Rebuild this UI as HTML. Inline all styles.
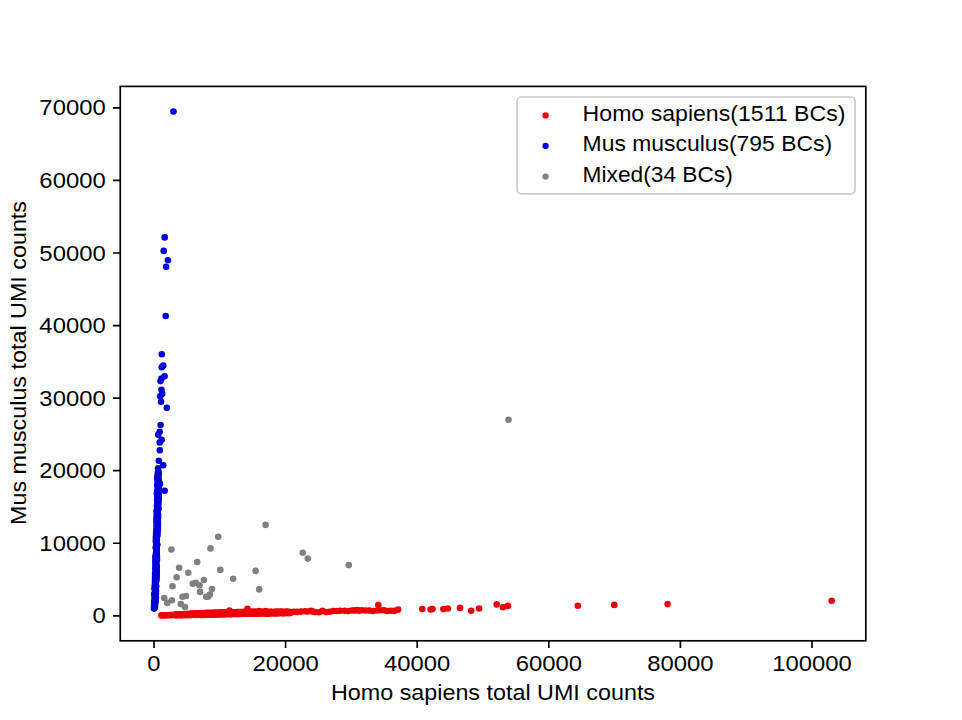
<!DOCTYPE html>
<html><head><meta charset="utf-8"><title>scatter</title>
<style>html,body{margin:0;padding:0;background:#fff;width:962px;height:720px;overflow:hidden}svg{display:block}</style>
</head><body><svg width="962" height="720" viewBox="0 0 962 720"><rect x="0" y="0" width="962" height="720" fill="#fff"/><g fill="#ee0008"><circle cx="161.3" cy="615.4" r="3.3"/><circle cx="162.5" cy="615.4" r="3.3"/><circle cx="164.3" cy="615.3" r="3.3"/><circle cx="165.0" cy="615.3" r="3.3"/><circle cx="166.7" cy="615.2" r="3.3"/><circle cx="167.9" cy="615.2" r="3.3"/><circle cx="168.9" cy="615.1" r="3.3"/><circle cx="170.6" cy="615.1" r="3.3"/><circle cx="171.4" cy="615.0" r="3.3"/><circle cx="173.1" cy="615.0" r="3.3"/><circle cx="174.1" cy="614.9" r="3.3"/><circle cx="176.1" cy="614.6" r="3.3"/><circle cx="175.9" cy="615.1" r="3.3"/><circle cx="175.7" cy="615.2" r="3.3"/><circle cx="177.5" cy="614.6" r="3.3"/><circle cx="176.7" cy="615.1" r="3.3"/><circle cx="176.8" cy="614.7" r="3.3"/><circle cx="178.3" cy="614.5" r="3.3"/><circle cx="178.0" cy="615.1" r="3.3"/><circle cx="178.3" cy="614.6" r="3.3"/><circle cx="179.7" cy="614.4" r="3.3"/><circle cx="179.9" cy="615.2" r="3.3"/><circle cx="179.7" cy="614.6" r="3.3"/><circle cx="180.8" cy="614.3" r="3.3"/><circle cx="180.9" cy="615.0" r="3.3"/><circle cx="181.0" cy="614.9" r="3.3"/><circle cx="182.6" cy="614.2" r="3.3"/><circle cx="182.1" cy="615.1" r="3.3"/><circle cx="182.4" cy="614.8" r="3.3"/><circle cx="184.0" cy="614.1" r="3.3"/><circle cx="183.2" cy="615.1" r="3.3"/><circle cx="184.1" cy="614.8" r="3.3"/><circle cx="184.8" cy="614.2" r="3.3"/><circle cx="184.9" cy="614.9" r="3.3"/><circle cx="184.5" cy="614.4" r="3.3"/><circle cx="185.9" cy="614.2" r="3.3"/><circle cx="185.8" cy="615.1" r="3.3"/><circle cx="186.6" cy="614.5" r="3.3"/><circle cx="187.3" cy="613.9" r="3.3"/><circle cx="187.9" cy="614.9" r="3.3"/><circle cx="187.2" cy="614.9" r="3.3"/><circle cx="188.8" cy="614.0" r="3.3"/><circle cx="188.3" cy="614.9" r="3.3"/><circle cx="188.9" cy="614.4" r="3.3"/><circle cx="190.1" cy="613.8" r="3.3"/><circle cx="189.7" cy="615.0" r="3.3"/><circle cx="190.5" cy="614.9" r="3.3"/><circle cx="191.3" cy="613.9" r="3.3"/><circle cx="191.0" cy="614.9" r="3.3"/><circle cx="191.1" cy="614.0" r="3.3"/><circle cx="192.2" cy="613.9" r="3.3"/><circle cx="192.6" cy="614.8" r="3.3"/><circle cx="192.8" cy="613.7" r="3.3"/><circle cx="193.8" cy="613.8" r="3.3"/><circle cx="194.3" cy="614.8" r="3.3"/><circle cx="194.0" cy="614.8" r="3.3"/><circle cx="195.1" cy="613.8" r="3.3"/><circle cx="195.0" cy="614.9" r="3.3"/><circle cx="195.3" cy="613.5" r="3.3"/><circle cx="196.1" cy="613.6" r="3.3"/><circle cx="197.0" cy="615.0" r="3.3"/><circle cx="196.5" cy="614.4" r="3.3"/><circle cx="197.9" cy="613.4" r="3.3"/><circle cx="197.6" cy="614.7" r="3.3"/><circle cx="198.3" cy="614.7" r="3.3"/><circle cx="199.4" cy="613.3" r="3.3"/><circle cx="199.1" cy="614.8" r="3.3"/><circle cx="199.0" cy="613.6" r="3.3"/><circle cx="201.0" cy="613.3" r="3.3"/><circle cx="201.0" cy="614.9" r="3.3"/><circle cx="200.2" cy="614.7" r="3.3"/><circle cx="201.5" cy="613.4" r="3.3"/><circle cx="202.1" cy="614.9" r="3.3"/><circle cx="202.1" cy="614.0" r="3.3"/><circle cx="203.5" cy="613.2" r="3.3"/><circle cx="203.1" cy="614.8" r="3.3"/><circle cx="202.9" cy="613.4" r="3.3"/><circle cx="204.3" cy="613.0" r="3.3"/><circle cx="204.6" cy="614.9" r="3.3"/><circle cx="204.1" cy="613.5" r="3.3"/><circle cx="205.3" cy="613.0" r="3.3"/><circle cx="205.9" cy="614.8" r="3.3"/><circle cx="205.3" cy="613.7" r="3.3"/><circle cx="207.1" cy="612.9" r="3.3"/><circle cx="206.9" cy="614.8" r="3.3"/><circle cx="206.7" cy="614.5" r="3.3"/><circle cx="208.0" cy="613.1" r="3.3"/><circle cx="208.2" cy="614.5" r="3.3"/><circle cx="208.2" cy="613.1" r="3.3"/><circle cx="210.0" cy="612.9" r="3.3"/><circle cx="209.6" cy="614.8" r="3.3"/><circle cx="209.1" cy="613.8" r="3.3"/><circle cx="210.4" cy="613.0" r="3.3"/><circle cx="210.9" cy="614.4" r="3.3"/><circle cx="210.7" cy="614.1" r="3.3"/><circle cx="212.5" cy="612.8" r="3.3"/><circle cx="211.9" cy="614.6" r="3.3"/><circle cx="212.2" cy="613.3" r="3.3"/><circle cx="213.9" cy="612.7" r="3.3"/><circle cx="213.5" cy="614.6" r="3.3"/><circle cx="213.5" cy="613.7" r="3.3"/><circle cx="215.2" cy="612.8" r="3.3"/><circle cx="215.2" cy="614.6" r="3.3"/><circle cx="215.2" cy="613.2" r="3.3"/><circle cx="215.7" cy="612.9" r="3.3"/><circle cx="215.8" cy="614.3" r="3.3"/><circle cx="216.4" cy="612.8" r="3.3"/><circle cx="217.6" cy="612.9" r="3.3"/><circle cx="217.8" cy="614.3" r="3.3"/><circle cx="217.9" cy="614.3" r="3.3"/><circle cx="219.2" cy="612.7" r="3.3"/><circle cx="218.6" cy="614.2" r="3.3"/><circle cx="218.4" cy="613.6" r="3.3"/><circle cx="219.5" cy="612.6" r="3.3"/><circle cx="219.5" cy="614.3" r="3.3"/><circle cx="220.0" cy="613.2" r="3.3"/><circle cx="221.6" cy="612.4" r="3.3"/><circle cx="221.1" cy="614.2" r="3.3"/><circle cx="221.1" cy="612.6" r="3.3"/><circle cx="223.0" cy="612.6" r="3.3"/><circle cx="222.2" cy="614.2" r="3.3"/><circle cx="222.8" cy="614.2" r="3.3"/><circle cx="224.1" cy="612.8" r="3.3"/><circle cx="224.3" cy="614.1" r="3.3"/><circle cx="223.5" cy="613.7" r="3.3"/><circle cx="225.6" cy="612.7" r="3.3"/><circle cx="225.3" cy="614.2" r="3.3"/><circle cx="224.8" cy="614.0" r="3.3"/><circle cx="226.1" cy="612.6" r="3.3"/><circle cx="226.2" cy="614.0" r="3.3"/><circle cx="226.8" cy="613.1" r="3.3"/><circle cx="227.5" cy="612.5" r="3.3"/><circle cx="227.6" cy="614.0" r="3.3"/><circle cx="227.9" cy="612.4" r="3.3"/><circle cx="229.5" cy="612.4" r="3.3"/><circle cx="229.0" cy="614.3" r="3.3"/><circle cx="229.0" cy="613.3" r="3.3"/><circle cx="230.9" cy="612.3" r="3.3"/><circle cx="230.6" cy="614.3" r="3.3"/><circle cx="230.2" cy="613.5" r="3.3"/><circle cx="231.3" cy="612.5" r="3.3"/><circle cx="231.4" cy="614.0" r="3.3"/><circle cx="232.1" cy="612.4" r="3.3"/><circle cx="232.7" cy="612.4" r="3.3"/><circle cx="232.7" cy="614.0" r="3.3"/><circle cx="233.5" cy="613.1" r="3.3"/><circle cx="234.0" cy="612.3" r="3.3"/><circle cx="234.2" cy="614.0" r="3.3"/><circle cx="234.3" cy="612.4" r="3.3"/><circle cx="235.6" cy="612.4" r="3.3"/><circle cx="235.2" cy="613.9" r="3.3"/><circle cx="235.1" cy="613.0" r="3.3"/><circle cx="237.0" cy="612.4" r="3.3"/><circle cx="237.1" cy="614.1" r="3.3"/><circle cx="236.8" cy="613.6" r="3.3"/><circle cx="237.8" cy="612.0" r="3.3"/><circle cx="237.7" cy="614.0" r="3.3"/><circle cx="238.3" cy="613.8" r="3.3"/><circle cx="239.1" cy="612.0" r="3.3"/><circle cx="239.8" cy="613.9" r="3.3"/><circle cx="239.6" cy="613.7" r="3.3"/><circle cx="241.0" cy="612.1" r="3.3"/><circle cx="240.4" cy="613.7" r="3.3"/><circle cx="241.1" cy="612.8" r="3.3"/><circle cx="242.2" cy="612.1" r="3.3"/><circle cx="241.6" cy="613.9" r="3.3"/><circle cx="242.1" cy="613.6" r="3.3"/><circle cx="243.0" cy="612.0" r="3.3"/><circle cx="243.0" cy="613.7" r="3.3"/><circle cx="243.1" cy="612.5" r="3.3"/><circle cx="244.7" cy="611.8" r="3.3"/><circle cx="244.9" cy="613.8" r="3.3"/><circle cx="244.8" cy="613.4" r="3.3"/><circle cx="245.8" cy="612.2" r="3.3"/><circle cx="246.1" cy="613.7" r="3.3"/><circle cx="245.8" cy="612.2" r="3.3"/><circle cx="247.5" cy="611.9" r="3.3"/><circle cx="247.3" cy="613.7" r="3.3"/><circle cx="247.7" cy="612.8" r="3.3"/><circle cx="249.0" cy="611.7" r="3.3"/><circle cx="248.9" cy="613.7" r="3.3"/><circle cx="248.4" cy="613.6" r="3.3"/><circle cx="249.6" cy="611.7" r="3.3"/><circle cx="249.9" cy="613.5" r="3.3"/><circle cx="250.2" cy="613.5" r="3.3"/><circle cx="251.4" cy="611.7" r="3.3"/><circle cx="251.2" cy="613.8" r="3.3"/><circle cx="251.2" cy="612.2" r="3.3"/><circle cx="252.1" cy="612.0" r="3.3"/><circle cx="252.8" cy="613.6" r="3.3"/><circle cx="252.8" cy="611.8" r="3.3"/><circle cx="254.0" cy="611.7" r="3.3"/><circle cx="253.7" cy="613.5" r="3.3"/><circle cx="253.9" cy="612.5" r="3.3"/><circle cx="254.9" cy="611.9" r="3.3"/><circle cx="255.4" cy="613.4" r="3.3"/><circle cx="254.8" cy="612.3" r="3.3"/><circle cx="256.1" cy="611.9" r="3.3"/><circle cx="256.8" cy="613.8" r="3.3"/><circle cx="256.8" cy="613.3" r="3.3"/><circle cx="257.9" cy="611.9" r="3.3"/><circle cx="257.7" cy="613.6" r="3.3"/><circle cx="257.5" cy="613.2" r="3.3"/><circle cx="258.6" cy="611.7" r="3.3"/><circle cx="258.8" cy="613.5" r="3.3"/><circle cx="258.8" cy="613.2" r="3.3"/><circle cx="260.4" cy="612.0" r="3.3"/><circle cx="260.0" cy="613.4" r="3.3"/><circle cx="260.3" cy="612.1" r="3.3"/><circle cx="262.1" cy="611.7" r="3.3"/><circle cx="261.3" cy="613.3" r="3.3"/><circle cx="261.2" cy="612.1" r="3.3"/><circle cx="263.0" cy="612.0" r="3.3"/><circle cx="262.8" cy="613.5" r="3.3"/><circle cx="262.8" cy="612.5" r="3.3"/><circle cx="264.0" cy="612.1" r="3.3"/><circle cx="264.2" cy="613.3" r="3.3"/><circle cx="263.9" cy="612.9" r="3.3"/><circle cx="265.4" cy="612.0" r="3.3"/><circle cx="265.8" cy="613.6" r="3.3"/><circle cx="265.0" cy="613.1" r="3.3"/><circle cx="266.8" cy="611.7" r="3.3"/><circle cx="266.7" cy="613.2" r="3.3"/><circle cx="267.2" cy="613.4" r="3.3"/><circle cx="267.7" cy="612.0" r="3.3"/><circle cx="268.3" cy="613.4" r="3.3"/><circle cx="268.2" cy="613.3" r="3.3"/><circle cx="269.5" cy="611.9" r="3.3"/><circle cx="269.1" cy="613.4" r="3.3"/><circle cx="269.2" cy="613.3" r="3.3"/><circle cx="270.8" cy="612.0" r="3.3"/><circle cx="270.3" cy="613.2" r="3.3"/><circle cx="270.6" cy="612.6" r="3.3"/><circle cx="271.5" cy="611.8" r="3.3"/><circle cx="272.5" cy="613.3" r="3.3"/><circle cx="272.0" cy="612.8" r="3.3"/><circle cx="273.8" cy="612.0" r="3.3"/><circle cx="272.8" cy="613.2" r="3.3"/><circle cx="273.2" cy="612.6" r="3.3"/><circle cx="275.0" cy="611.8" r="3.3"/><circle cx="274.4" cy="613.1" r="3.3"/><circle cx="274.3" cy="612.4" r="3.3"/><circle cx="275.9" cy="611.8" r="3.3"/><circle cx="275.7" cy="613.4" r="3.3"/><circle cx="275.6" cy="612.9" r="3.3"/><circle cx="277.7" cy="611.9" r="3.3"/><circle cx="276.9" cy="613.1" r="3.3"/><circle cx="277.6" cy="612.4" r="3.3"/><circle cx="278.2" cy="611.9" r="3.3"/><circle cx="278.1" cy="613.1" r="3.3"/><circle cx="278.9" cy="612.0" r="3.3"/><circle cx="280.3" cy="611.8" r="3.3"/><circle cx="279.5" cy="613.1" r="3.3"/><circle cx="279.3" cy="613.1" r="3.3"/><circle cx="281.0" cy="611.9" r="3.3"/><circle cx="280.6" cy="613.0" r="3.3"/><circle cx="281.6" cy="612.2" r="3.3"/><circle cx="282.1" cy="611.7" r="3.3"/><circle cx="282.7" cy="613.2" r="3.3"/><circle cx="282.4" cy="612.4" r="3.3"/><circle cx="283.4" cy="611.7" r="3.3"/><circle cx="283.2" cy="613.2" r="3.3"/><circle cx="284.0" cy="612.3" r="3.3"/><circle cx="284.6" cy="612.0" r="3.3"/><circle cx="285.2" cy="613.0" r="3.3"/><circle cx="284.8" cy="612.9" r="3.3"/><circle cx="286.1" cy="611.8" r="3.3"/><circle cx="286.1" cy="613.0" r="3.3"/><circle cx="286.7" cy="611.8" r="3.3"/><circle cx="287.1" cy="611.7" r="3.3"/><circle cx="288.1" cy="613.0" r="3.3"/><circle cx="287.4" cy="612.9" r="3.3"/><circle cx="289.3" cy="611.8" r="3.3"/><circle cx="289.1" cy="613.1" r="3.3"/><circle cx="289.0" cy="612.8" r="3.3"/><circle cx="290.2" cy="613.0" r="3.3"/><circle cx="293.7" cy="611.8" r="3.3"/><circle cx="297.0" cy="611.9" r="3.3"/><circle cx="301.0" cy="611.6" r="3.3"/><circle cx="305.0" cy="611.3" r="3.3"/><circle cx="307.8" cy="611.5" r="3.3"/><circle cx="312.3" cy="611.4" r="3.3"/><circle cx="315.0" cy="612.1" r="3.3"/><circle cx="319.2" cy="612.2" r="3.3"/><circle cx="322.4" cy="610.9" r="3.3"/><circle cx="326.1" cy="612.1" r="3.3"/><circle cx="329.5" cy="611.8" r="3.3"/><circle cx="333.2" cy="611.0" r="3.3"/><circle cx="336.9" cy="611.0" r="3.3"/><circle cx="340.3" cy="610.8" r="3.3"/><circle cx="344.7" cy="610.7" r="3.3"/><circle cx="348.2" cy="611.0" r="3.3"/><circle cx="351.8" cy="610.5" r="3.3"/><circle cx="354.7" cy="610.4" r="3.3"/><circle cx="359.1" cy="610.7" r="3.3"/><circle cx="362.1" cy="610.3" r="3.3"/><circle cx="365.6" cy="610.5" r="3.3"/><circle cx="369.5" cy="610.6" r="3.3"/><circle cx="372.9" cy="611.0" r="3.3"/><circle cx="377.1" cy="610.5" r="3.3"/><circle cx="380.4" cy="610.3" r="3.3"/><circle cx="384.1" cy="610.2" r="3.3"/><circle cx="387.1" cy="611.0" r="3.3"/><circle cx="390.5" cy="610.7" r="3.3"/><circle cx="394.2" cy="610.9" r="3.3"/><circle cx="205.2" cy="613.2" r="3.3"/><circle cx="259.3" cy="611.0" r="3.3"/><circle cx="265.5" cy="611.0" r="3.3"/><circle cx="229.5" cy="610.6" r="3.3"/><circle cx="247.4" cy="608.8" r="3.3"/><circle cx="311.0" cy="610.7" r="3.3"/><circle cx="357.5" cy="610.0" r="3.3"/><circle cx="378.3" cy="605.0" r="3.3"/><circle cx="398.1" cy="609.6" r="3.3"/><circle cx="422.3" cy="609.1" r="3.3"/><circle cx="430.6" cy="609.6" r="3.3"/><circle cx="432.5" cy="609.0" r="3.3"/><circle cx="443.4" cy="609.1" r="3.3"/><circle cx="447.8" cy="608.5" r="3.3"/><circle cx="460.0" cy="607.9" r="3.3"/><circle cx="471.2" cy="610.7" r="3.3"/><circle cx="479.1" cy="608.5" r="3.3"/><circle cx="496.7" cy="604.4" r="3.3"/><circle cx="503.1" cy="607.2" r="3.3"/><circle cx="507.9" cy="605.9" r="3.3"/><circle cx="577.8" cy="605.7" r="3.3"/><circle cx="614.3" cy="604.9" r="3.3"/><circle cx="667.6" cy="604.1" r="3.3"/><circle cx="831.7" cy="600.7" r="3.3"/></g><g fill="#0000d8"><circle cx="154.0" cy="608.6" r="3.3"/><circle cx="154.5" cy="607.9" r="3.3"/><circle cx="154.8" cy="607.2" r="3.3"/><circle cx="154.9" cy="606.5" r="3.3"/><circle cx="154.1" cy="605.8" r="3.3"/><circle cx="154.2" cy="605.1" r="3.3"/><circle cx="155.1" cy="604.4" r="3.3"/><circle cx="154.7" cy="603.7" r="3.3"/><circle cx="154.5" cy="603.0" r="3.3"/><circle cx="154.5" cy="602.3" r="3.3"/><circle cx="155.7" cy="601.6" r="3.3"/><circle cx="154.6" cy="600.9" r="3.3"/><circle cx="155.1" cy="600.2" r="3.3"/><circle cx="154.7" cy="599.5" r="3.3"/><circle cx="154.9" cy="598.8" r="3.3"/><circle cx="155.6" cy="598.1" r="3.3"/><circle cx="155.9" cy="597.4" r="3.3"/><circle cx="154.8" cy="596.7" r="3.3"/><circle cx="154.6" cy="596.0" r="3.3"/><circle cx="155.5" cy="595.3" r="3.3"/><circle cx="154.7" cy="594.6" r="3.3"/><circle cx="154.3" cy="593.9" r="3.3"/><circle cx="155.9" cy="593.2" r="3.3"/><circle cx="155.1" cy="592.5" r="3.3"/><circle cx="155.8" cy="591.8" r="3.3"/><circle cx="155.1" cy="591.1" r="3.3"/><circle cx="156.0" cy="590.4" r="3.3"/><circle cx="155.3" cy="589.7" r="3.3"/><circle cx="154.8" cy="589.0" r="3.3"/><circle cx="154.6" cy="588.3" r="3.3"/><circle cx="155.5" cy="587.6" r="3.3"/><circle cx="155.7" cy="586.9" r="3.3"/><circle cx="156.2" cy="586.2" r="3.3"/><circle cx="154.8" cy="585.5" r="3.3"/><circle cx="155.7" cy="584.8" r="3.3"/><circle cx="155.3" cy="584.1" r="3.3"/><circle cx="155.6" cy="583.4" r="3.3"/><circle cx="155.0" cy="582.7" r="3.3"/><circle cx="155.2" cy="582.0" r="3.3"/><circle cx="155.6" cy="581.3" r="3.3"/><circle cx="156.4" cy="580.6" r="3.3"/><circle cx="155.0" cy="579.9" r="3.3"/><circle cx="155.7" cy="579.2" r="3.3"/><circle cx="156.2" cy="578.5" r="3.3"/><circle cx="156.5" cy="577.8" r="3.3"/><circle cx="155.2" cy="577.1" r="3.3"/><circle cx="155.1" cy="576.4" r="3.3"/><circle cx="156.5" cy="575.7" r="3.3"/><circle cx="156.6" cy="575.0" r="3.3"/><circle cx="155.8" cy="574.3" r="3.3"/><circle cx="155.1" cy="573.6" r="3.3"/><circle cx="156.6" cy="572.9" r="3.3"/><circle cx="155.7" cy="572.2" r="3.3"/><circle cx="156.6" cy="571.5" r="3.3"/><circle cx="156.2" cy="570.8" r="3.3"/><circle cx="156.5" cy="570.1" r="3.3"/><circle cx="155.4" cy="569.4" r="3.3"/><circle cx="156.5" cy="568.7" r="3.3"/><circle cx="155.6" cy="568.0" r="3.3"/><circle cx="155.9" cy="567.3" r="3.3"/><circle cx="156.7" cy="566.6" r="3.3"/><circle cx="156.7" cy="565.9" r="3.3"/><circle cx="155.6" cy="565.2" r="3.3"/><circle cx="155.7" cy="564.5" r="3.3"/><circle cx="156.0" cy="563.8" r="3.3"/><circle cx="156.2" cy="563.1" r="3.3"/><circle cx="156.0" cy="562.4" r="3.3"/><circle cx="155.6" cy="561.7" r="3.3"/><circle cx="155.8" cy="561.0" r="3.3"/><circle cx="156.7" cy="560.3" r="3.3"/><circle cx="157.0" cy="559.6" r="3.3"/><circle cx="155.5" cy="558.9" r="3.3"/><circle cx="156.4" cy="558.2" r="3.3"/><circle cx="156.8" cy="557.5" r="3.3"/><circle cx="155.6" cy="556.8" r="3.3"/><circle cx="156.9" cy="556.1" r="3.3"/><circle cx="155.7" cy="555.4" r="3.3"/><circle cx="156.6" cy="554.7" r="3.3"/><circle cx="156.5" cy="554.0" r="3.3"/><circle cx="156.6" cy="553.3" r="3.3"/><circle cx="156.1" cy="552.6" r="3.3"/><circle cx="156.3" cy="551.9" r="3.3"/><circle cx="156.6" cy="551.2" r="3.3"/><circle cx="156.4" cy="550.5" r="3.3"/><circle cx="156.8" cy="549.8" r="3.3"/><circle cx="156.4" cy="549.1" r="3.3"/><circle cx="156.4" cy="548.4" r="3.3"/><circle cx="155.7" cy="547.7" r="3.3"/><circle cx="156.8" cy="547.0" r="3.3"/><circle cx="156.6" cy="546.3" r="3.3"/><circle cx="156.2" cy="545.6" r="3.3"/><circle cx="157.1" cy="544.9" r="3.3"/><circle cx="157.1" cy="544.2" r="3.3"/><circle cx="156.6" cy="543.5" r="3.3"/><circle cx="156.1" cy="542.8" r="3.3"/><circle cx="156.6" cy="542.1" r="3.3"/><circle cx="156.0" cy="541.4" r="3.3"/><circle cx="156.1" cy="540.7" r="3.3"/><circle cx="156.6" cy="540.0" r="3.3"/><circle cx="156.0" cy="539.3" r="3.3"/><circle cx="156.7" cy="538.6" r="3.3"/><circle cx="156.8" cy="537.9" r="3.3"/><circle cx="156.0" cy="537.2" r="3.3"/><circle cx="157.0" cy="536.5" r="3.3"/><circle cx="156.1" cy="535.8" r="3.3"/><circle cx="157.2" cy="535.1" r="3.3"/><circle cx="157.3" cy="534.4" r="3.3"/><circle cx="156.9" cy="533.7" r="3.3"/><circle cx="156.1" cy="533.0" r="3.3"/><circle cx="156.9" cy="532.3" r="3.3"/><circle cx="156.7" cy="531.6" r="3.3"/><circle cx="157.7" cy="530.9" r="3.3"/><circle cx="156.3" cy="530.2" r="3.3"/><circle cx="157.6" cy="529.5" r="3.3"/><circle cx="157.8" cy="528.8" r="3.3"/><circle cx="157.4" cy="528.1" r="3.3"/><circle cx="157.6" cy="527.4" r="3.3"/><circle cx="156.5" cy="526.7" r="3.3"/><circle cx="157.9" cy="526.0" r="3.3"/><circle cx="157.1" cy="525.3" r="3.3"/><circle cx="157.9" cy="524.6" r="3.3"/><circle cx="157.8" cy="523.9" r="3.3"/><circle cx="156.6" cy="523.2" r="3.3"/><circle cx="157.6" cy="522.5" r="3.3"/><circle cx="157.9" cy="521.8" r="3.3"/><circle cx="156.5" cy="521.1" r="3.3"/><circle cx="157.0" cy="520.4" r="3.3"/><circle cx="157.7" cy="519.7" r="3.3"/><circle cx="156.7" cy="519.0" r="3.3"/><circle cx="158.0" cy="518.3" r="3.3"/><circle cx="156.9" cy="517.6" r="3.3"/><circle cx="157.9" cy="516.9" r="3.3"/><circle cx="156.8" cy="516.2" r="3.3"/><circle cx="157.4" cy="515.5" r="3.3"/><circle cx="158.1" cy="514.8" r="3.3"/><circle cx="156.9" cy="514.1" r="3.3"/><circle cx="157.0" cy="513.4" r="3.3"/><circle cx="157.5" cy="512.7" r="3.3"/><circle cx="157.2" cy="512.0" r="3.3"/><circle cx="156.7" cy="511.3" r="3.3"/><circle cx="157.0" cy="510.6" r="3.3"/><circle cx="157.0" cy="509.9" r="3.3"/><circle cx="158.3" cy="509.2" r="3.3"/><circle cx="157.9" cy="508.5" r="3.3"/><circle cx="158.3" cy="507.8" r="3.3"/><circle cx="157.1" cy="507.1" r="3.3"/><circle cx="158.1" cy="506.4" r="3.3"/><circle cx="157.0" cy="505.7" r="3.3"/><circle cx="157.8" cy="505.0" r="3.3"/><circle cx="157.9" cy="504.3" r="3.3"/><circle cx="157.5" cy="503.6" r="3.3"/><circle cx="158.4" cy="502.9" r="3.3"/><circle cx="157.9" cy="502.2" r="3.3"/><circle cx="157.9" cy="501.5" r="3.3"/><circle cx="158.5" cy="500.8" r="3.3"/><circle cx="157.2" cy="500.1" r="3.3"/><circle cx="158.7" cy="499.4" r="3.3"/><circle cx="158.1" cy="498.7" r="3.3"/><circle cx="157.7" cy="498.0" r="3.3"/><circle cx="158.4" cy="497.3" r="3.3"/><circle cx="157.5" cy="496.6" r="3.3"/><circle cx="158.8" cy="495.9" r="3.3"/><circle cx="158.1" cy="495.2" r="3.3"/><circle cx="157.7" cy="494.5" r="3.3"/><circle cx="158.4" cy="493.8" r="3.3"/><circle cx="157.9" cy="493.1" r="3.3"/><circle cx="157.5" cy="492.4" r="3.3"/><circle cx="158.4" cy="491.7" r="3.3"/><circle cx="157.3" cy="491.0" r="3.3"/><circle cx="158.6" cy="490.3" r="3.3"/><circle cx="157.7" cy="489.6" r="3.3"/><circle cx="158.3" cy="488.9" r="3.3"/><circle cx="158.9" cy="488.2" r="3.3"/><circle cx="158.2" cy="487.5" r="3.3"/><circle cx="158.4" cy="486.8" r="3.3"/><circle cx="157.8" cy="486.1" r="3.3"/><circle cx="157.3" cy="485.4" r="3.3"/><circle cx="157.4" cy="484.7" r="3.3"/><circle cx="157.6" cy="484.0" r="3.3"/><circle cx="158.4" cy="483.3" r="3.3"/><circle cx="158.1" cy="482.6" r="3.3"/><circle cx="158.2" cy="481.9" r="3.3"/><circle cx="158.9" cy="481.2" r="3.3"/><circle cx="157.6" cy="480.5" r="3.3"/><circle cx="157.8" cy="479.8" r="3.3"/><circle cx="158.5" cy="479.1" r="3.3"/><circle cx="157.5" cy="478.4" r="3.3"/><circle cx="157.5" cy="477.7" r="3.3"/><circle cx="158.1" cy="477.0" r="3.3"/><circle cx="157.7" cy="476.3" r="3.3"/><circle cx="158.1" cy="475.6" r="3.3"/><circle cx="157.9" cy="474.9" r="3.3"/><circle cx="158.5" cy="474.2" r="3.3"/><circle cx="158.6" cy="473.5" r="3.3"/><circle cx="157.9" cy="472.8" r="3.3"/><circle cx="158.6" cy="472.1" r="3.3"/><circle cx="173.5" cy="111.5" r="3.3"/><circle cx="164.7" cy="237.4" r="3.3"/><circle cx="163.7" cy="250.9" r="3.3"/><circle cx="167.9" cy="260.2" r="3.3"/><circle cx="166.1" cy="266.8" r="3.3"/><circle cx="165.7" cy="316.0" r="3.3"/><circle cx="161.8" cy="354.3" r="3.3"/><circle cx="161.7" cy="367.2" r="3.3"/><circle cx="163.3" cy="365.5" r="3.3"/><circle cx="164.6" cy="376.2" r="3.3"/><circle cx="161.5" cy="378.5" r="3.3"/><circle cx="160.5" cy="381.1" r="3.3"/><circle cx="161.5" cy="389.7" r="3.3"/><circle cx="162.2" cy="393.8" r="3.3"/><circle cx="160.2" cy="396.3" r="3.3"/><circle cx="161.1" cy="401.8" r="3.3"/><circle cx="166.8" cy="407.8" r="3.3"/><circle cx="160.6" cy="425.0" r="3.3"/><circle cx="159.7" cy="431.7" r="3.3"/><circle cx="158.2" cy="434.7" r="3.3"/><circle cx="161.7" cy="439.7" r="3.3"/><circle cx="159.7" cy="442.5" r="3.3"/><circle cx="159.8" cy="450.3" r="3.3"/><circle cx="158.8" cy="460.7" r="3.3"/><circle cx="163.2" cy="465.3" r="3.3"/><circle cx="158.1" cy="468.2" r="3.3"/><circle cx="158.2" cy="476.5" r="3.3"/><circle cx="160.0" cy="483.7" r="3.3"/><circle cx="164.7" cy="490.7" r="3.3"/><circle cx="156.9" cy="493.7" r="3.3"/></g><g fill="#808080"><circle cx="265.6" cy="524.9" r="3.3"/><circle cx="218.2" cy="536.8" r="3.3"/><circle cx="171.4" cy="549.5" r="3.3"/><circle cx="210.5" cy="548.4" r="3.3"/><circle cx="302.8" cy="552.8" r="3.3"/><circle cx="307.8" cy="558.6" r="3.3"/><circle cx="197.2" cy="562.0" r="3.3"/><circle cx="348.8" cy="565.1" r="3.3"/><circle cx="179.1" cy="567.8" r="3.3"/><circle cx="220.3" cy="569.9" r="3.3"/><circle cx="255.6" cy="570.9" r="3.3"/><circle cx="188.3" cy="572.8" r="3.3"/><circle cx="176.6" cy="577.3" r="3.3"/><circle cx="233.2" cy="578.8" r="3.3"/><circle cx="203.9" cy="580.0" r="3.3"/><circle cx="172.5" cy="586.3" r="3.3"/><circle cx="192.8" cy="583.8" r="3.3"/><circle cx="195.8" cy="582.7" r="3.3"/><circle cx="199.5" cy="585.2" r="3.3"/><circle cx="212.0" cy="589.0" r="3.3"/><circle cx="259.2" cy="589.4" r="3.3"/><circle cx="200.1" cy="591.9" r="3.3"/><circle cx="209.9" cy="594.6" r="3.3"/><circle cx="206.2" cy="596.7" r="3.3"/><circle cx="208.2" cy="596.7" r="3.3"/><circle cx="182.5" cy="596.7" r="3.3"/><circle cx="186.0" cy="596.0" r="3.3"/><circle cx="164.2" cy="598.1" r="3.3"/><circle cx="171.9" cy="600.2" r="3.3"/><circle cx="167.3" cy="602.9" r="3.3"/><circle cx="180.8" cy="604.0" r="3.3"/><circle cx="185.0" cy="607.1" r="3.3"/><circle cx="508.5" cy="419.8" r="3.3"/></g><rect x="120.25" y="86.4" width="745.55" height="554.40" fill="none" stroke="#000" stroke-width="1.67" stroke-linejoin="miter"/><path d="M154.00 640.8V648.09M285.60 640.8V648.09M417.20 640.8V648.09M548.80 640.8V648.09M680.40 640.8V648.09M812.00 640.8V648.09M112.96 615.80H120.25M112.96 543.24H120.25M112.96 470.67H120.25M112.96 398.11H120.25M112.96 325.55H120.25M112.96 252.98H120.25M112.96 180.42H120.25M112.96 107.86H120.25" stroke="#000" stroke-width="1.67" fill="none"/><g font-family="Liberation Sans, sans-serif" font-size="22" fill="#000"><text x="154.00" y="671.2" text-anchor="middle" textLength="13.26" lengthAdjust="spacingAndGlyphs">0</text><text x="285.60" y="671.2" text-anchor="middle" textLength="66.28" lengthAdjust="spacingAndGlyphs">20000</text><text x="417.20" y="671.2" text-anchor="middle" textLength="66.28" lengthAdjust="spacingAndGlyphs">40000</text><text x="548.80" y="671.2" text-anchor="middle" textLength="66.28" lengthAdjust="spacingAndGlyphs">60000</text><text x="680.40" y="671.2" text-anchor="middle" textLength="66.28" lengthAdjust="spacingAndGlyphs">80000</text><text x="812.00" y="671.2" text-anchor="middle" textLength="79.53" lengthAdjust="spacingAndGlyphs">100000</text><text x="105.67" y="623.40" text-anchor="end" textLength="13.26" lengthAdjust="spacingAndGlyphs">0</text><text x="105.67" y="550.84" text-anchor="end" textLength="66.28" lengthAdjust="spacingAndGlyphs">10000</text><text x="105.67" y="478.27" text-anchor="end" textLength="66.28" lengthAdjust="spacingAndGlyphs">20000</text><text x="105.67" y="405.71" text-anchor="end" textLength="66.28" lengthAdjust="spacingAndGlyphs">30000</text><text x="105.67" y="333.15" text-anchor="end" textLength="66.28" lengthAdjust="spacingAndGlyphs">40000</text><text x="105.67" y="260.58" text-anchor="end" textLength="66.28" lengthAdjust="spacingAndGlyphs">50000</text><text x="105.67" y="188.02" text-anchor="end" textLength="66.28" lengthAdjust="spacingAndGlyphs">60000</text><text x="105.67" y="115.46" text-anchor="end" textLength="66.28" lengthAdjust="spacingAndGlyphs">70000</text><text x="493.0" y="699.7" text-anchor="middle" textLength="324.1" lengthAdjust="spacingAndGlyphs">Homo sapiens total UMI counts</text><text transform="translate(26.4 363.0) rotate(-90)" x="0" y="0" text-anchor="middle" textLength="324.0" lengthAdjust="spacingAndGlyphs">Mus musculus total UMI counts</text></g><rect x="517.1" y="97.0" width="338.0" height="96.8" rx="4.2" ry="4.2" fill="#fff" fill-opacity="0.8" stroke="#cccccc" stroke-width="1.67"/><circle cx="545.6" cy="115.4" r="3.15" fill="#ee0008"/><circle cx="545.6" cy="146.0" r="3.15" fill="#0000d8"/><circle cx="545.6" cy="176.6" r="3.15" fill="#808080"/><g font-family="Liberation Sans, sans-serif" font-size="22" fill="#000"><text x="582.6" y="121.0" textLength="262.8" lengthAdjust="spacingAndGlyphs">Homo sapiens(1511 BCs)</text><text x="582.6" y="151.35" textLength="249.5" lengthAdjust="spacingAndGlyphs">Mus musculus(795 BCs)</text><text x="582.6" y="181.7" textLength="150.2" lengthAdjust="spacingAndGlyphs">Mixed(34 BCs)</text></g></svg></body></html>
